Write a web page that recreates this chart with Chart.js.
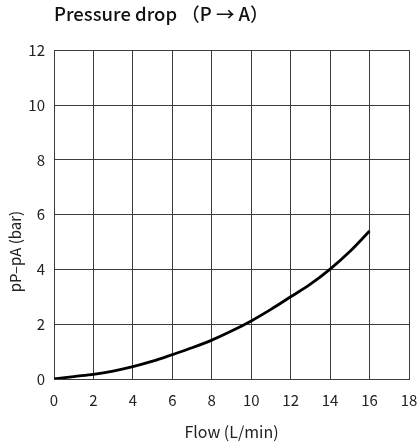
<!DOCTYPE html>
<html><head><meta charset="utf-8">
<script src="https://cdn.jsdelivr.net/npm/chart.js@4/dist/chart.umd.min.js"></script>
<style>html,body{margin:0;padding:0;background:#fff;}#wrap{width:420px;height:448px;position:relative;}</style>
</head><body>
<div id="wrap"><canvas id="c" width="420" height="448"></canvas></div>
<script>
const flow = [0,1,2,3,4,5,6,7,8,9,10,11,12,13,14,15,16];
const pressureDrop = [0,0.09,0.17,0.29,0.45,0.65,0.89,1.14,1.42,1.75,2.12,2.54,3.0,3.46,4.01,4.65,5.40];
const xTicks = [0,2,4,6,8,10,12,14,16,18];
const yTicks = [0,2,4,6,8,10,12];
const chartTitle = 'Pressure drop （P → A）';
const xTitle = 'Flow (L/min)';
const yTitle = 'pP–pA (bar)';

const FONT = "'Noto Sans CJK SC','Noto Sans',sans-serif";
const GRID = '#3c3c3c';

const yTitlePlugin = {
  id: 'yTitle',
  afterDraw(chart) {
    const {ctx, chartArea} = chart;
    ctx.save();
    ctx.translate(15, (chartArea.top + chartArea.bottom) / 2 + 37);
    ctx.rotate(-Math.PI / 2);
    ctx.font = "15px " + FONT;
    ctx.fillStyle = '#222';
    ctx.textAlign = 'center';
    ctx.textBaseline = 'middle';
    ctx.fillText(yTitle, 0, 0);
    ctx.restore();
  }
};

new Chart(document.getElementById('c'), {
  type: 'line',
  data: {
    datasets: [{
      data: flow.map((x, i) => ({x: x, y: pressureDrop[i]})),
      borderColor: '#000',
      borderWidth: 2.8,
      pointRadius: 0,
      fill: false,
      cubicInterpolationMode: 'monotone'
    }]
  },
  options: {
    responsive: false,
    animation: false,
    layout: {padding: {left: 0, right: 0, top: 0, bottom: 0}},
    plugins: {
      legend: {display: false},
      tooltip: {enabled: false},
      title: {
        display: true,
        text: chartTitle,
        align: 'start',
        fullSize: false,
        color: '#111',
        font: {family: FONT, size: 18.5, weight: '500'},
        padding: {top: 3, bottom: 25}
      }
    },
    scales: {
      x: {
        type: 'linear',
        min: 0, max: 18,
        afterBuildTicks: (s) => { s.ticks = xTicks.map(v => ({value: v})); },
        afterFit: (s) => { s.height = 69; s.paddingRight = 11; },
        grid: {color: GRID, lineWidth: 1, drawTicks: false},
        border: {color: GRID, width: 1},
        ticks: {color: '#222', padding: 12, font: {family: FONT, size: 15}},
        title: {display: true, text: xTitle, color: '#222', font: {family: FONT, size: 16}, padding: {top: 0, bottom: 6}}
      },
      y: {
        type: 'linear',
        min: 0, max: 12,
        afterBuildTicks: (s) => { s.ticks = yTicks.map(v => ({value: v})); },
        afterFit: (s) => { s.width = 54; },
        grid: {color: GRID, lineWidth: 1, drawTicks: false},
        border: {color: GRID, width: 1},
        ticks: {color: '#222', padding: 9, font: {family: FONT, size: 15}}
      }
    }
  },
  plugins: [yTitlePlugin]
});
</script>
</body></html>
